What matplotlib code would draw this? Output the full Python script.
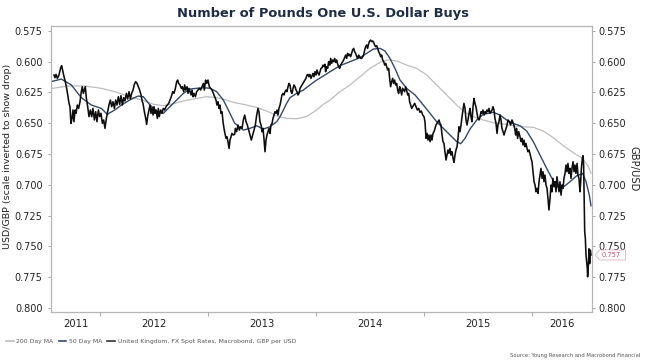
import matplotlib
matplotlib.use("Agg")
import matplotlib.pyplot as plt
from matplotlib.lines import Line2D
from matplotlib.patches import Polygon

# ---------------- data (decimal years, USD/GBP) ----------------
spot_t = [
    2011.574, 2011.583, 2011.593, 2011.605, 2011.620, 2011.636, 2011.645, 2011.657, 2011.667, 2011.679,
    2011.691, 2011.704, 2011.713, 2011.722, 2011.731, 2011.741, 2011.750, 2011.759, 2011.769, 2011.778,
    2011.790, 2011.802, 2011.815, 2011.827, 2011.836, 2011.846, 2011.855, 2011.864, 2011.874, 2011.886,
    2011.898, 2011.911, 2011.923, 2011.935, 2011.948, 2011.960, 2011.972, 2011.985, 2011.997, 2012.009,
    2012.022, 2012.034, 2012.046, 2012.059, 2012.071, 2012.083, 2012.096, 2012.108, 2012.120, 2012.133,
    2012.145, 2012.157, 2012.170, 2012.182, 2012.194, 2012.207, 2012.219, 2012.231, 2012.244, 2012.256,
    2012.269, 2012.281, 2012.293, 2012.306, 2012.318, 2012.330, 2012.343, 2012.355, 2012.367, 2012.380,
    2012.392,
    2012.398, 2012.411, 2012.423, 2012.432, 2012.441, 2012.454, 2012.463, 2012.472, 2012.482, 2012.491,
    2012.500, 2012.509, 2012.519, 2012.531, 2012.540, 2012.549, 2012.562, 2012.574, 2012.586, 2012.599,
    2012.611, 2012.623, 2012.636, 2012.648, 2012.660, 2012.673, 2012.685, 2012.698, 2012.710, 2012.719,
    2012.728, 2012.741, 2012.753, 2012.762, 2012.775, 2012.784, 2012.793, 2012.806, 2012.815, 2012.824,
    2012.833, 2012.843, 2012.852, 2012.861, 2012.870, 2012.883, 2012.895, 2012.907, 2012.920, 2012.932,
    2012.944, 2012.957, 2012.966, 2012.978, 2012.988, 2013.000, 2013.012, 2013.025, 2013.037, 2013.049,
    2013.062, 2013.074, 2013.083, 2013.093, 2013.102, 2013.111, 2013.120, 2013.130, 2013.139, 2013.148,
    2013.157, 2013.167, 2013.176, 2013.185, 2013.195, 2013.204, 2013.213, 2013.222, 2013.235, 2013.247,
    2013.253, 2013.265, 2013.278, 2013.290, 2013.302, 2013.315, 2013.327, 2013.340, 2013.352, 2013.364,
    2013.377, 2013.389, 2013.401, 2013.414, 2013.426, 2013.438, 2013.451, 2013.463, 2013.472, 2013.481,
    2013.491, 2013.500, 2013.509, 2013.518, 2013.528, 2013.537, 2013.546, 2013.556, 2013.565, 2013.574,
    2013.583, 2013.593, 2013.602, 2013.611, 2013.620, 2013.630, 2013.639, 2013.648, 2013.657, 2013.667,
    2013.676, 2013.685, 2013.694, 2013.704, 2013.713, 2013.722, 2013.731, 2013.741, 2013.750, 2013.759,
    2013.769, 2013.778, 2013.787, 2013.796, 2013.806, 2013.815, 2013.824, 2013.833, 2013.843, 2013.852,
    2013.861, 2013.870, 2013.880, 2013.889, 2013.898, 2013.907, 2013.917, 2013.926, 2013.935, 2013.944,
    2013.954, 2013.963, 2013.972, 2013.981, 2013.991, 2014.000, 2014.009, 2014.019, 2014.028, 2014.037,
    2014.046, 2014.056, 2014.065, 2014.074, 2014.083,
    2014.089, 2014.099, 2014.108, 2014.117, 2014.127, 2014.136, 2014.145, 2014.154, 2014.164, 2014.173,
    2014.182, 2014.191, 2014.201, 2014.210, 2014.219, 2014.228, 2014.238, 2014.247, 2014.256, 2014.265,
    2014.275, 2014.284, 2014.293, 2014.302, 2014.312, 2014.321, 2014.330, 2014.339, 2014.349, 2014.358,
    2014.367, 2014.377, 2014.386, 2014.395, 2014.404, 2014.414, 2014.423, 2014.432, 2014.441, 2014.451,
    2014.460, 2014.469, 2014.478, 2014.488, 2014.497, 2014.506, 2014.515, 2014.525, 2014.534, 2014.543,
    2014.552, 2014.562, 2014.571, 2014.580, 2014.589, 2014.599, 2014.608, 2014.617, 2014.627, 2014.636,
    2014.645, 2014.654, 2014.664, 2014.673, 2014.682, 2014.691, 2014.701, 2014.710, 2014.719, 2014.728,
    2014.738, 2014.747, 2014.756, 2014.765, 2014.775, 2014.784, 2014.793, 2014.802, 2014.812, 2014.821,
    2014.830, 2014.839, 2014.849, 2014.858, 2014.867, 2014.877, 2014.886, 2014.895, 2014.904, 2014.914,
    2014.926, 2014.938, 2014.951, 2014.963, 2014.975, 2014.988, 2015.000, 2015.009, 2015.019, 2015.028,
    2015.037, 2015.046, 2015.056, 2015.065, 2015.074, 2015.083, 2015.093, 2015.102, 2015.111, 2015.120,
    2015.130, 2015.139, 2015.148, 2015.157, 2015.167, 2015.176, 2015.185, 2015.194, 2015.204, 2015.213,
    2015.222, 2015.231, 2015.241, 2015.250, 2015.259, 2015.269, 2015.278, 2015.287, 2015.296, 2015.306,
    2015.315, 2015.324, 2015.333, 2015.343, 2015.352, 2015.361, 2015.370, 2015.380, 2015.389, 2015.398,
    2015.407, 2015.417, 2015.426, 2015.435, 2015.444, 2015.454, 2015.463, 2015.472, 2015.481, 2015.491,
    2015.500, 2015.509, 2015.519, 2015.528, 2015.537, 2015.546, 2015.556, 2015.565, 2015.574, 2015.583,
    2015.593, 2015.602, 2015.611, 2015.620, 2015.630, 2015.639, 2015.648, 2015.657, 2015.667, 2015.676,
    2015.685, 2015.694, 2015.704, 2015.713, 2015.722, 2015.731, 2015.741, 2015.750,
    2015.765, 2015.778, 2015.790, 2015.802, 2015.815, 2015.827, 2015.840, 2015.849, 2015.858, 2015.867,
    2015.877, 2015.889, 2015.898, 2015.907, 2015.917, 2015.926, 2015.935, 2015.944, 2015.954, 2015.963,
    2015.972, 2015.981, 2015.991, 2016.000, 2016.009, 2016.019, 2016.028, 2016.037, 2016.046, 2016.056,
    2016.065, 2016.074, 2016.083, 2016.093, 2016.102, 2016.111, 2016.120, 2016.130, 2016.139, 2016.148,
    2016.157, 2016.167, 2016.176, 2016.185, 2016.194, 2016.204, 2016.213, 2016.222, 2016.231, 2016.241,
    2016.250, 2016.259, 2016.269, 2016.278, 2016.287, 2016.296, 2016.306, 2016.315, 2016.324, 2016.333,
    2016.343, 2016.352, 2016.361, 2016.370, 2016.380, 2016.389, 2016.398, 2016.407, 2016.417, 2016.426,
    2016.435, 2016.444, 2016.451, 2016.457, 2016.466, 2016.472, 2016.478, 2016.481, 2016.485, 2016.488,
    2016.494, 2016.500, 2016.506, 2016.512, 2016.515, 2016.522, 2016.528, 2016.534, 2016.540, 2016.546,
]

spot_v = [
    0.6109, 0.6131, 0.6104, 0.6136, 0.6109, 0.6050, 0.6033, 0.6082, 0.6123, 0.6163,
    0.6217, 0.6285, 0.6339, 0.6366, 0.6502, 0.6461, 0.6393, 0.6488, 0.6393, 0.6420,
    0.6353, 0.6380, 0.6326, 0.6244, 0.6204, 0.6258, 0.6231, 0.6204, 0.6299, 0.6366,
    0.6447, 0.6393, 0.6447, 0.6380, 0.6474, 0.6407, 0.6488, 0.6393, 0.6447, 0.6420,
    0.6502, 0.6474, 0.6542, 0.6461, 0.6407, 0.6353, 0.6312, 0.6366, 0.6326, 0.6380,
    0.6312, 0.6353, 0.6285, 0.6347, 0.6277, 0.6353, 0.6293, 0.6320, 0.6258, 0.6304,
    0.6244, 0.6304, 0.6258, 0.6231, 0.6185, 0.6163, 0.6177, 0.6204, 0.6231, 0.6271,
    0.6326,
    0.6339, 0.6407, 0.6461, 0.6510, 0.6447, 0.6393, 0.6353, 0.6420, 0.6374, 0.6434,
    0.6366, 0.6420, 0.6393, 0.6461, 0.6380, 0.6447, 0.6393, 0.6420, 0.6380, 0.6393,
    0.6366, 0.6353, 0.6339, 0.6312, 0.6285, 0.6244, 0.6258, 0.6217, 0.6163, 0.6150,
    0.6177, 0.6190, 0.6217, 0.6204, 0.6244, 0.6190, 0.6231, 0.6204, 0.6258, 0.6217,
    0.6244, 0.6271, 0.6231, 0.6285, 0.6258, 0.6285, 0.6244, 0.6231, 0.6217, 0.6231,
    0.6204, 0.6177, 0.6231, 0.6150, 0.6177, 0.6150, 0.6204, 0.6217, 0.6231, 0.6258,
    0.6285, 0.6312, 0.6353, 0.6326, 0.6380, 0.6353, 0.6420, 0.6407, 0.6488, 0.6542,
    0.6583, 0.6623, 0.6610, 0.6650, 0.6705, 0.6637, 0.6610, 0.6583, 0.6596, 0.6590,
    0.6542, 0.6569, 0.6515, 0.6556, 0.6529, 0.6542, 0.6474, 0.6434, 0.6488, 0.6515,
    0.6556, 0.6596, 0.6637, 0.6596, 0.6556, 0.6515, 0.6434, 0.6380, 0.6407, 0.6488,
    0.6515, 0.6569, 0.6542, 0.6623, 0.6732, 0.6637, 0.6596, 0.6569, 0.6542, 0.6583,
    0.6515, 0.6502, 0.6461, 0.6434, 0.6407, 0.6420, 0.6393, 0.6434, 0.6380, 0.6353,
    0.6312, 0.6271, 0.6258, 0.6271, 0.6244, 0.6231, 0.6244, 0.6204, 0.6177, 0.6190,
    0.6244, 0.6258, 0.6217, 0.6190, 0.6204, 0.6231, 0.6244, 0.6271, 0.6258, 0.6217,
    0.6204, 0.6190, 0.6177, 0.6163, 0.6150, 0.6136, 0.6109, 0.6104, 0.6123, 0.6104,
    0.6136, 0.6115, 0.6096, 0.6123, 0.6082, 0.6109, 0.6068, 0.6096, 0.6109, 0.6082,
    0.6055, 0.6050, 0.6028, 0.6041, 0.6022,
    0.6082, 0.6041, 0.6055, 0.6001, 0.6028, 0.5974, 0.6014, 0.5987, 0.6001, 0.5974,
    0.6006, 0.5987, 0.6022, 0.6041, 0.6055, 0.6028, 0.6014, 0.6001, 0.5987, 0.5968,
    0.5947, 0.5974, 0.5933, 0.5952, 0.5941, 0.5960, 0.5933, 0.5906, 0.5893, 0.5920,
    0.5933, 0.5960, 0.5974, 0.5947, 0.5960, 0.5974, 0.5974, 0.5960, 0.5947, 0.5906,
    0.5879, 0.5865, 0.5893, 0.5852, 0.5833, 0.5825, 0.5838, 0.5833, 0.5844, 0.5865,
    0.5879, 0.5871, 0.5893, 0.5920, 0.5933, 0.5960, 0.5947, 0.5987, 0.6001, 0.6028,
    0.6014, 0.6041, 0.6068, 0.6055, 0.6136, 0.6204, 0.6163, 0.6136, 0.6177, 0.6150,
    0.6190, 0.6177, 0.6231, 0.6258, 0.6204, 0.6231, 0.6271, 0.6217, 0.6231, 0.6244,
    0.6204, 0.6231, 0.6271, 0.6258, 0.6326, 0.6353, 0.6380, 0.6366, 0.6353, 0.6339,
    0.6366, 0.6393, 0.6380, 0.6412, 0.6401, 0.6434, 0.6447, 0.6488, 0.6623, 0.6583,
    0.6637, 0.6596, 0.6650, 0.6596, 0.6637, 0.6583, 0.6569, 0.6542, 0.6515, 0.6502,
    0.6488, 0.6474, 0.6502, 0.6515, 0.6596, 0.6650, 0.6664, 0.6732, 0.6799, 0.6759,
    0.6718, 0.6745, 0.6705, 0.6759, 0.6732, 0.6786, 0.6818, 0.6759, 0.6718, 0.6691,
    0.6623, 0.6529, 0.6569, 0.6515, 0.6447, 0.6393, 0.6339, 0.6380, 0.6474, 0.6515,
    0.6474, 0.6420, 0.6380, 0.6447, 0.6488, 0.6366, 0.6299, 0.6339, 0.6366, 0.6420,
    0.6461, 0.6474, 0.6447, 0.6407, 0.6420, 0.6393, 0.6434, 0.6407, 0.6420, 0.6393,
    0.6407, 0.6380, 0.6420, 0.6407, 0.6393, 0.6366, 0.6393, 0.6461, 0.6502, 0.6583,
    0.6515, 0.6488, 0.6434, 0.6474, 0.6542, 0.6569, 0.6596, 0.6569,
    0.6529, 0.6474, 0.6488, 0.6515, 0.6474, 0.6502, 0.6542, 0.6596, 0.6542, 0.6623,
    0.6569, 0.6610, 0.6650, 0.6623, 0.6677, 0.6637, 0.6691, 0.6664, 0.6705, 0.6732,
    0.6718, 0.6745, 0.6786, 0.6813, 0.6894, 0.6975, 0.7002, 0.7057, 0.7029, 0.7070,
    0.6975, 0.6921, 0.6867, 0.6948, 0.6894, 0.6975, 0.6921, 0.7002, 0.7029, 0.7111,
    0.7205, 0.7111, 0.7002, 0.7057, 0.6948, 0.7016, 0.6975, 0.7057, 0.6935, 0.7002,
    0.7057, 0.6975, 0.7084, 0.7002, 0.7029, 0.6948, 0.6908, 0.6840, 0.6894, 0.6827,
    0.6908, 0.6867, 0.6948, 0.6867, 0.6813, 0.6894, 0.6840, 0.6908, 0.6827, 0.6921,
    0.6948, 0.7057, 0.6975, 0.6867, 0.6786, 0.6764, 0.6840, 0.7002, 0.7219, 0.7381,
    0.7435, 0.7571, 0.7625, 0.7679, 0.7747, 0.7652, 0.7520, 0.7640, 0.7530, 0.7570,
]

ma50_t = [
    2011.519, 2011.642, 2011.735, 2011.827, 2011.920, 2012.012, 2012.068, 2012.136, 2012.198, 2012.275,
    2012.352, 2012.401, 2012.463, 2012.525, 2012.586, 2012.648, 2012.710, 2012.772, 2012.833, 2012.895,
    2012.957, 2013.019, 2013.080, 2013.142, 2013.188, 2013.247, 2013.327, 2013.389, 2013.451, 2013.512,
    2013.574, 2013.636, 2013.667, 2013.698, 2013.728, 2013.759, 2013.821, 2013.883, 2013.944, 2014.006,
    2014.083, 2014.130, 2014.222, 2014.315, 2014.407, 2014.469, 2014.531, 2014.593, 2014.639, 2014.685,
    2014.731, 2014.778, 2014.839, 2014.917, 2014.994, 2015.056, 2015.117, 2015.179, 2015.241, 2015.303,
    2015.340, 2015.380, 2015.426, 2015.488, 2015.549, 2015.642, 2015.704, 2015.765, 2015.827, 2015.889,
    2015.951, 2016.012, 2016.074, 2016.136, 2016.198, 2016.244, 2016.290, 2016.352, 2016.414, 2016.469,
    2016.500, 2016.531, 2016.546,
]
ma50_v = [
    0.6169, 0.6142, 0.6190, 0.6293, 0.6353, 0.6380, 0.6428, 0.6393, 0.6353, 0.6312,
    0.6280, 0.6285, 0.6353, 0.6401, 0.6420, 0.6366, 0.6312, 0.6258, 0.6223, 0.6217,
    0.6212, 0.6217, 0.6244, 0.6312, 0.6393, 0.6500, 0.6556, 0.6542, 0.6521, 0.6548,
    0.6529, 0.6488, 0.6447, 0.6393, 0.6339, 0.6293, 0.6258, 0.6231, 0.6190, 0.6150,
    0.6109, 0.6082, 0.6033, 0.6001, 0.5968, 0.5933, 0.5898, 0.5893, 0.5914, 0.5974,
    0.6055, 0.6150, 0.6217, 0.6271, 0.6353, 0.6420, 0.6488, 0.6542, 0.6596, 0.6650,
    0.6667, 0.6623, 0.6548, 0.6474, 0.6428, 0.6412, 0.6434, 0.6474, 0.6502, 0.6521,
    0.6564, 0.6650, 0.6759, 0.6867, 0.6970, 0.7024, 0.7019, 0.6975, 0.6927, 0.6908,
    0.6975, 0.7084, 0.7170,
]

ma200_t = [
    2011.519, 2011.704, 2011.858, 2012.012, 2012.136, 2012.259, 2012.398, 2012.494, 2012.586, 2012.679,
    2012.772, 2012.864, 2012.988, 2013.080, 2013.173, 2013.235, 2013.327, 2013.451, 2013.574, 2013.636,
    2013.728, 2013.821, 2013.914, 2014.006, 2014.068, 2014.130, 2014.222, 2014.315, 2014.407, 2014.500,
    2014.593, 2014.670, 2014.747, 2014.839, 2014.932, 2015.025, 2015.117, 2015.210, 2015.303, 2015.380,
    2015.457, 2015.549, 2015.642, 2015.735, 2015.827, 2015.920, 2016.012, 2016.105, 2016.198, 2016.290,
    2016.383, 2016.469, 2016.522, 2016.546,
]
ma200_v = [
    0.6223, 0.6198, 0.6198, 0.6217, 0.6244, 0.6280, 0.6315, 0.6347, 0.6358, 0.6342,
    0.6320, 0.6304, 0.6285, 0.6293, 0.6312, 0.6331, 0.6347, 0.6372, 0.6412, 0.6442,
    0.6461, 0.6464, 0.6445, 0.6393, 0.6347, 0.6312, 0.6244, 0.6190, 0.6123, 0.6055,
    0.6006, 0.5985, 0.5995, 0.6028, 0.6055, 0.6109, 0.6190, 0.6271, 0.6353, 0.6412,
    0.6447, 0.6474, 0.6496, 0.6507, 0.6521, 0.6529, 0.6534, 0.6564, 0.6618, 0.6683,
    0.6740, 0.6786, 0.6853, 0.6905,
]

year_bounds = [2012, 2013, 2014, 2015, 2016]
year_labels = ["2011", "2012", "2013", "2014", "2015", "2016"]
y_ticks = [0.575, 0.600, 0.625, 0.650, 0.675, 0.700, 0.725, 0.750, 0.775, 0.800]

title = "Number of Pounds One U.S. Dollar Buys"
left_label = "USD/GBP (scale inverted to show drop)"
right_label = "GBP/USD"
legend_labels = ["200 Day MA", "50 Day MA",
                 "United Kingdom, FX Spot Rates, Macrobond, GBP per USD"]
source_text = "Source: Young Research and Macrobond Financial"

# ---------------- figure ----------------
W, H = 645, 363
fig = plt.figure(figsize=(W / 100, H / 100), dpi=100)
fig.patch.set_facecolor("white")

ax_l, ax_r, ax_t, ax_b = 51, 591.7, 25.5, 312
ax = fig.add_axes([ax_l / W, 1 - ax_b / H, (ax_r - ax_l) / W, (ax_b - ax_t) / H])

c200, c50, cspot = "#bdbdbd", "#34496a", "#0e0e0e"
ax.plot(ma200_t, ma200_v, color=c200, lw=0.9, zorder=2)
ax.plot(ma50_t, ma50_v, color=c50, lw=1.0, zorder=3)
ax.plot(spot_t, spot_v, color=cspot, lw=1.15, zorder=4)

xmin, xmax = 2011.5463, 2016.5528
ax.set_xlim(xmin, xmax)
ax.set_ylim(0.8033, 0.5707)

spine_c = "#b4b4b4"
for s in ax.spines.values():
    s.set_color(spine_c)
    s.set_linewidth(0.8)

# y ticks: left on ax, right on twin
ax.set_yticks(y_ticks)
ax.set_yticklabels([f"{v:.3f}" for v in y_ticks])
ax.tick_params(axis="y", direction="out", length=2.5, width=0.6, color="#999999",
               labelsize=7, labelcolor="#222222", pad=3.5)
ax2 = ax.twinx()
ax2.set_ylim(ax.get_ylim())
ax2.set_yticks(y_ticks)
ax2.set_yticklabels([f"{v:.3f}" for v in y_ticks])
ax2.tick_params(axis="y", direction="out", length=2.5, width=0.6, color="#999999",
                labelsize=7, labelcolor="#222222", pad=2)
for s in ax2.spines.values():
    s.set_color(spine_c)
    s.set_linewidth(0.8)

# x ticks: boundaries (no labels) + centred year labels
ax.set_xticks(year_bounds)
ax.set_xticklabels([""] * len(year_bounds))
edges = [xmin] + year_bounds + [xmax]
centers = [(edges[i] + edges[i + 1]) / 2 for i in range(len(edges) - 1)]
ax.set_xticks(centers, minor=True)
ax.set_xticklabels(year_labels, minor=True)
ax.tick_params(axis="x", which="major", direction="out", length=3, width=0.6, color="#999999")
ax.tick_params(axis="x", which="minor", length=0, labelsize=7.2, labelcolor="#222222", pad=5)

# titles / labels
fig.text(0.5, 1 - 14 / H, title, ha="center", va="center", fontsize=9.4,
         fontweight="bold", color="#1e2c45")
fig.text(8 / W, 1 - 156 / H, left_label, rotation=90, ha="center", va="center",
         fontsize=6.8, color="#222222")
fig.text(633 / W, 1 - 168.5 / H, right_label, rotation=270, ha="center", va="center",
         fontsize=7.2, color="#222222")

# legend
handles = [Line2D([], [], color=c200, lw=1.2),
           Line2D([], [], color=c50, lw=1.2),
           Line2D([], [], color="#333333", lw=1.2)]
leg = fig.legend(handles, legend_labels, loc="center left",
                 bbox_to_anchor=(6 / W, 1 - 341 / H), ncol=3, fontsize=4.4,
                 frameon=False, handlelength=1.3, handletextpad=0.4,
                 columnspacing=0.8, borderaxespad=0, borderpad=0)
for t in leg.get_texts():
    t.set_color("#555555")

fig.text(640 / W, 1 - 355 / H, source_text, ha="right", va="center",
         fontsize=3.8, color="#555555")

# last-value flag at the right axis
last_v = spot_v[-1]
_, yd = ax.transData.transform((xmax, last_v))
xd = ax.transAxes.transform((1, 0))[0]
hh = 5
verts = [(xd + 3.5, yd), (xd + 8, yd + hh), (xd + 34, yd + hh),
         (xd + 34, yd - hh), (xd + 8, yd - hh)]
poly = Polygon([(x / W, y / H) for x, y in verts], closed=True,
               transform=fig.transFigure, facecolor="white",
               edgecolor="#d9b3bd", lw=0.6, zorder=10)
fig.add_artist(poly)
fig.text((xd + 10) / W, yd / H, f"{last_v:.3f}", ha="left", va="center",
         fontsize=4.8, color="#c0506a", zorder=11)

fig.savefig("out.png", dpi=100, facecolor="white")
